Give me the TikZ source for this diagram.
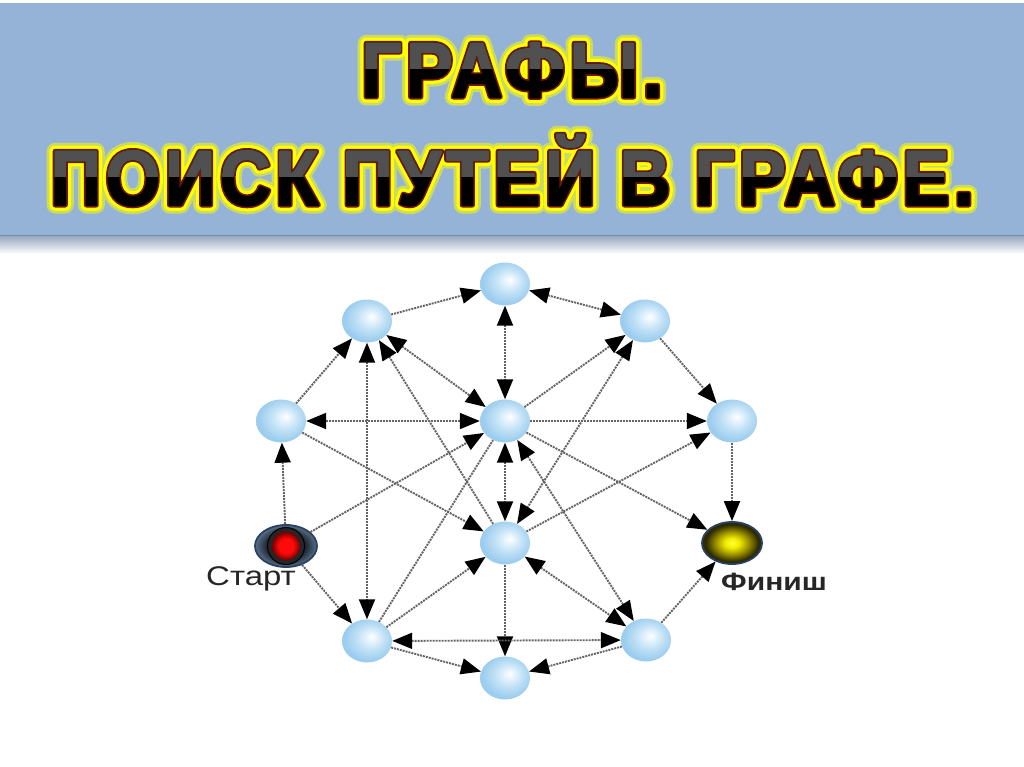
\documentclass[tikz,border=0pt]{standalone}
\usepackage{fontspec}
\setmainfont{Liberation Sans}
\newfontfamily\ttlfam{Liberation Sans}[FakeStretch=0.9, LetterSpace=6]
\usetikzlibrary{shapes.geometric,arrows.meta}

\definecolor{banner}{RGB}{149,179,215}
\definecolor{bannerEdge}{RGB}{118,140,170}
\definecolor{glowY}{RGB}{205,218,100}
\definecolor{titleY}{RGB}{255,255,0}
\definecolor{dred}{RGB}{110,22,10}
\definecolor{tgray}{RGB}{80,80,80}
\definecolor{edgeC}{RGB}{100,100,100}
\definecolor{sphA}{RGB}{236,246,253}
\definecolor{sphB}{RGB}{192,225,246}
\definecolor{sphC}{RGB}{156,205,238}
\definecolor{navyB}{RGB}{40,66,100}
\definecolor{slateA}{RGB}{30,40,55}
\definecolor{slateB}{RGB}{92,112,136}
\definecolor{redA}{RGB}{255,10,10}
\definecolor{redB}{RGB}{120,0,0}
\definecolor{yelA}{RGB}{255,255,60}
\definecolor{yelB}{RGB}{240,235,0}
\definecolor{yelC}{RGB}{150,140,0}
\definecolor{yelD}{RGB}{45,42,5}

\pgfdeclareradialshading{sphere}{\pgfpoint{5bp}{5bp}}{color(0bp)=(white); color(4bp)=(sphA); color(14bp)=(sphB); color(25bp)=(sphC); color(50bp)=(sphC)}
\pgfdeclareradialshading{slate}{\pgfpoint{0bp}{0bp}}{color(0bp)=(slateA); color(16bp)=(slateA); color(25bp)=(slateB); color(50bp)=(slateB)}
\pgfdeclareradialshading{redball}{\pgfpoint{0bp}{0bp}}{color(0bp)=(redA); color(13bp)=(redA); color(25bp)=(redB); color(50bp)=(redB)}
\pgfdeclareradialshading{yelball}{\pgfpoint{0bp}{0bp}}{color(0bp)=(yelA); color(6bp)=(yelB); color(14bp)=(yelC); color(22bp)=(yelD); color(25bp)=(yelD); color(50bp)=(yelD)}

\newcommand\ttlfont{\fontsize{78}{78}\ttlfam\bfseries}
% stroked text: #1 line width, #2 stroke rgb, #3 text
\newcommand\strk[3]{\special{pdf:literal direct #1 w 1 j #2 RG 2 Tr}#3\special{pdf:literal direct 0 Tr}}

% #1 prefix, #2 x, #3 baseline y, #4 text
\newcommand\titlelayer[4]{%
  \node[ttl, text=glowY]  (#1g) at (#2,#3) {\strk{17}{0.80 0.85 0.39}{#4}};
  \node[ttl, text=titleY] (#1y) at (#2,#3) {\strk{11.5}{1 1 0}{#4}};
  \node[ttl, text=dred]   (#1r) at (#2,#3) {\strk{5}{0.43 0.09 0.04}{#4}};
  \node[ttl, text=black]  (#1)  at (#2,#3) {\strk{1.8}{0 0 0}{#4}};
  \begin{scope}
    \clip (0,#3-75) rectangle (1024,#3-28);
    \node[ttl, text=tgray] (#1h) at (#2,#3) {\strk{1.8}{0.31 0.31 0.31}{#4}};
  \end{scope}
}

\tikzset{
  ttl/.style={anchor=base, inner sep=0pt, font=\ttlfont},
  sph/.style={ellipse, minimum width=50pt, minimum height=43pt, inner sep=0pt, shading=sphere},
  startout/.style={ellipse, minimum width=62pt, minimum height=42pt, inner sep=0pt, shading=slate, draw=navyB, line width=1.8pt},
  finishnode/.style={ellipse, minimum width=60pt, minimum height=42pt, inner sep=0pt, shading=yelball, draw=navyB, line width=1.8pt},
  edge/.style={draw=edgeC, line width=1.9pt, dash pattern=on 2pt off 1pt},
  >={Triangle[length=20pt,width=16pt,color=black]}
}

\begin{document}
\begin{tikzpicture}[x=1pt,y=-1pt]
\useasboundingbox (0,0) rectangle (1024,767);
\fill[white] (0,0) rectangle (1024,767);

% banner
\shade[top color=bannerEdge!80, bottom color=white] (0,235) rectangle (1024,254);
\fill[banner] (0,3) rectangle (1024,236);
\draw[bannerEdge, line width=1.2pt] (0,235.5) -- (1024,235.5);

% title
\titlelayer{tA}{512}{97}{ГРАФЫ.}
\titlelayer{tB}{512}{205}{ПОИСК ПУТЕЙ В ГРАФЕ.}

% graph nodes
\node[sph] (T)  at (505,284) {};
\node[sph] (UL) at (367,321) {};
\node[sph] (UR) at (645,321) {};
\node[sph] (L)  at (281,421) {};
\node[sph] (C1) at (505,421) {};
\node[sph] (R)  at (732,421) {};
\node[sph] (C2) at (505,543) {};
\node[sph] (LL) at (367,641) {};
\node[sph] (LR) at (646,640) {};
\node[sph] (B)  at (505,678) {};

\node[startout] (S) at (286,546) {};
\node[circle, minimum size=37pt, inner sep=0pt, fill=black!85, draw=black, line width=1pt] (Sk) at (S) {};
\node[circle, minimum size=28pt, inner sep=0pt, shading=redball] (Sr) at (S) {};
\node[finishnode] (F) at (732,543) {};

\node[anchor=base, inner sep=0pt, font=\fontsize{27}{27}\selectfont, text=black!85] (SL) at (251,585) {\scalebox{1.22}[1]{Старт}};
\node[anchor=base, inner sep=0pt, font=\fontsize{25}{25}\selectfont\bfseries, text=black!85] (FL) at (774,590) {\scalebox{1.2}[1]{Финиш}};

% edges
\draw[edge,->]  (UL) -- (T);
\draw[edge,<->] (T) -- (UR);
\draw[edge,<->] (T) -- (C1);
\draw[edge,->]  (L) -- (UL);
\draw[edge,<->] (UL) -- (LL);
\draw[edge,<->] (UL) -- (C1);
\draw[edge,->]  (C2) -- (UL);
\draw[edge,<->] (L) -- (C1);
\draw[edge,->]  (C1) -- (R);
\draw[edge,->]  (C1) -- (UR);
\draw[edge,<->] (UR) -- (C2);
\draw[edge,->]  (UR) -- (R);
\draw[edge,->]  (S) -- (L);
\draw[edge,->]  (S) -- (C1);
\draw[edge,->]  (S) -- (LL);
\draw[edge,->]  (L) -- (C2);
\draw[edge,<->] (C1) -- (C2);
\draw[edge,<->] (C1) -- (LR);
\draw[edge,->]  (C1) -- (F);
\draw[edge,->]  (R) -- (F);
\draw[edge,->]  (C2) -- (R);
\draw[edge]     (LL) -- (C1);
\draw[edge,->]  (LL) -- (C2);
\draw[edge,<->] (C2) -- (LR);
\draw[edge,->]  (C2) -- (B);
\draw[edge,<->] (LL) -- (LR);
\draw[edge,->]  (LL) -- (B);
\draw[edge,->]  (LR) -- (B);
\draw[edge,->]  (LR) -- (F);
\end{tikzpicture}
\end{document}
